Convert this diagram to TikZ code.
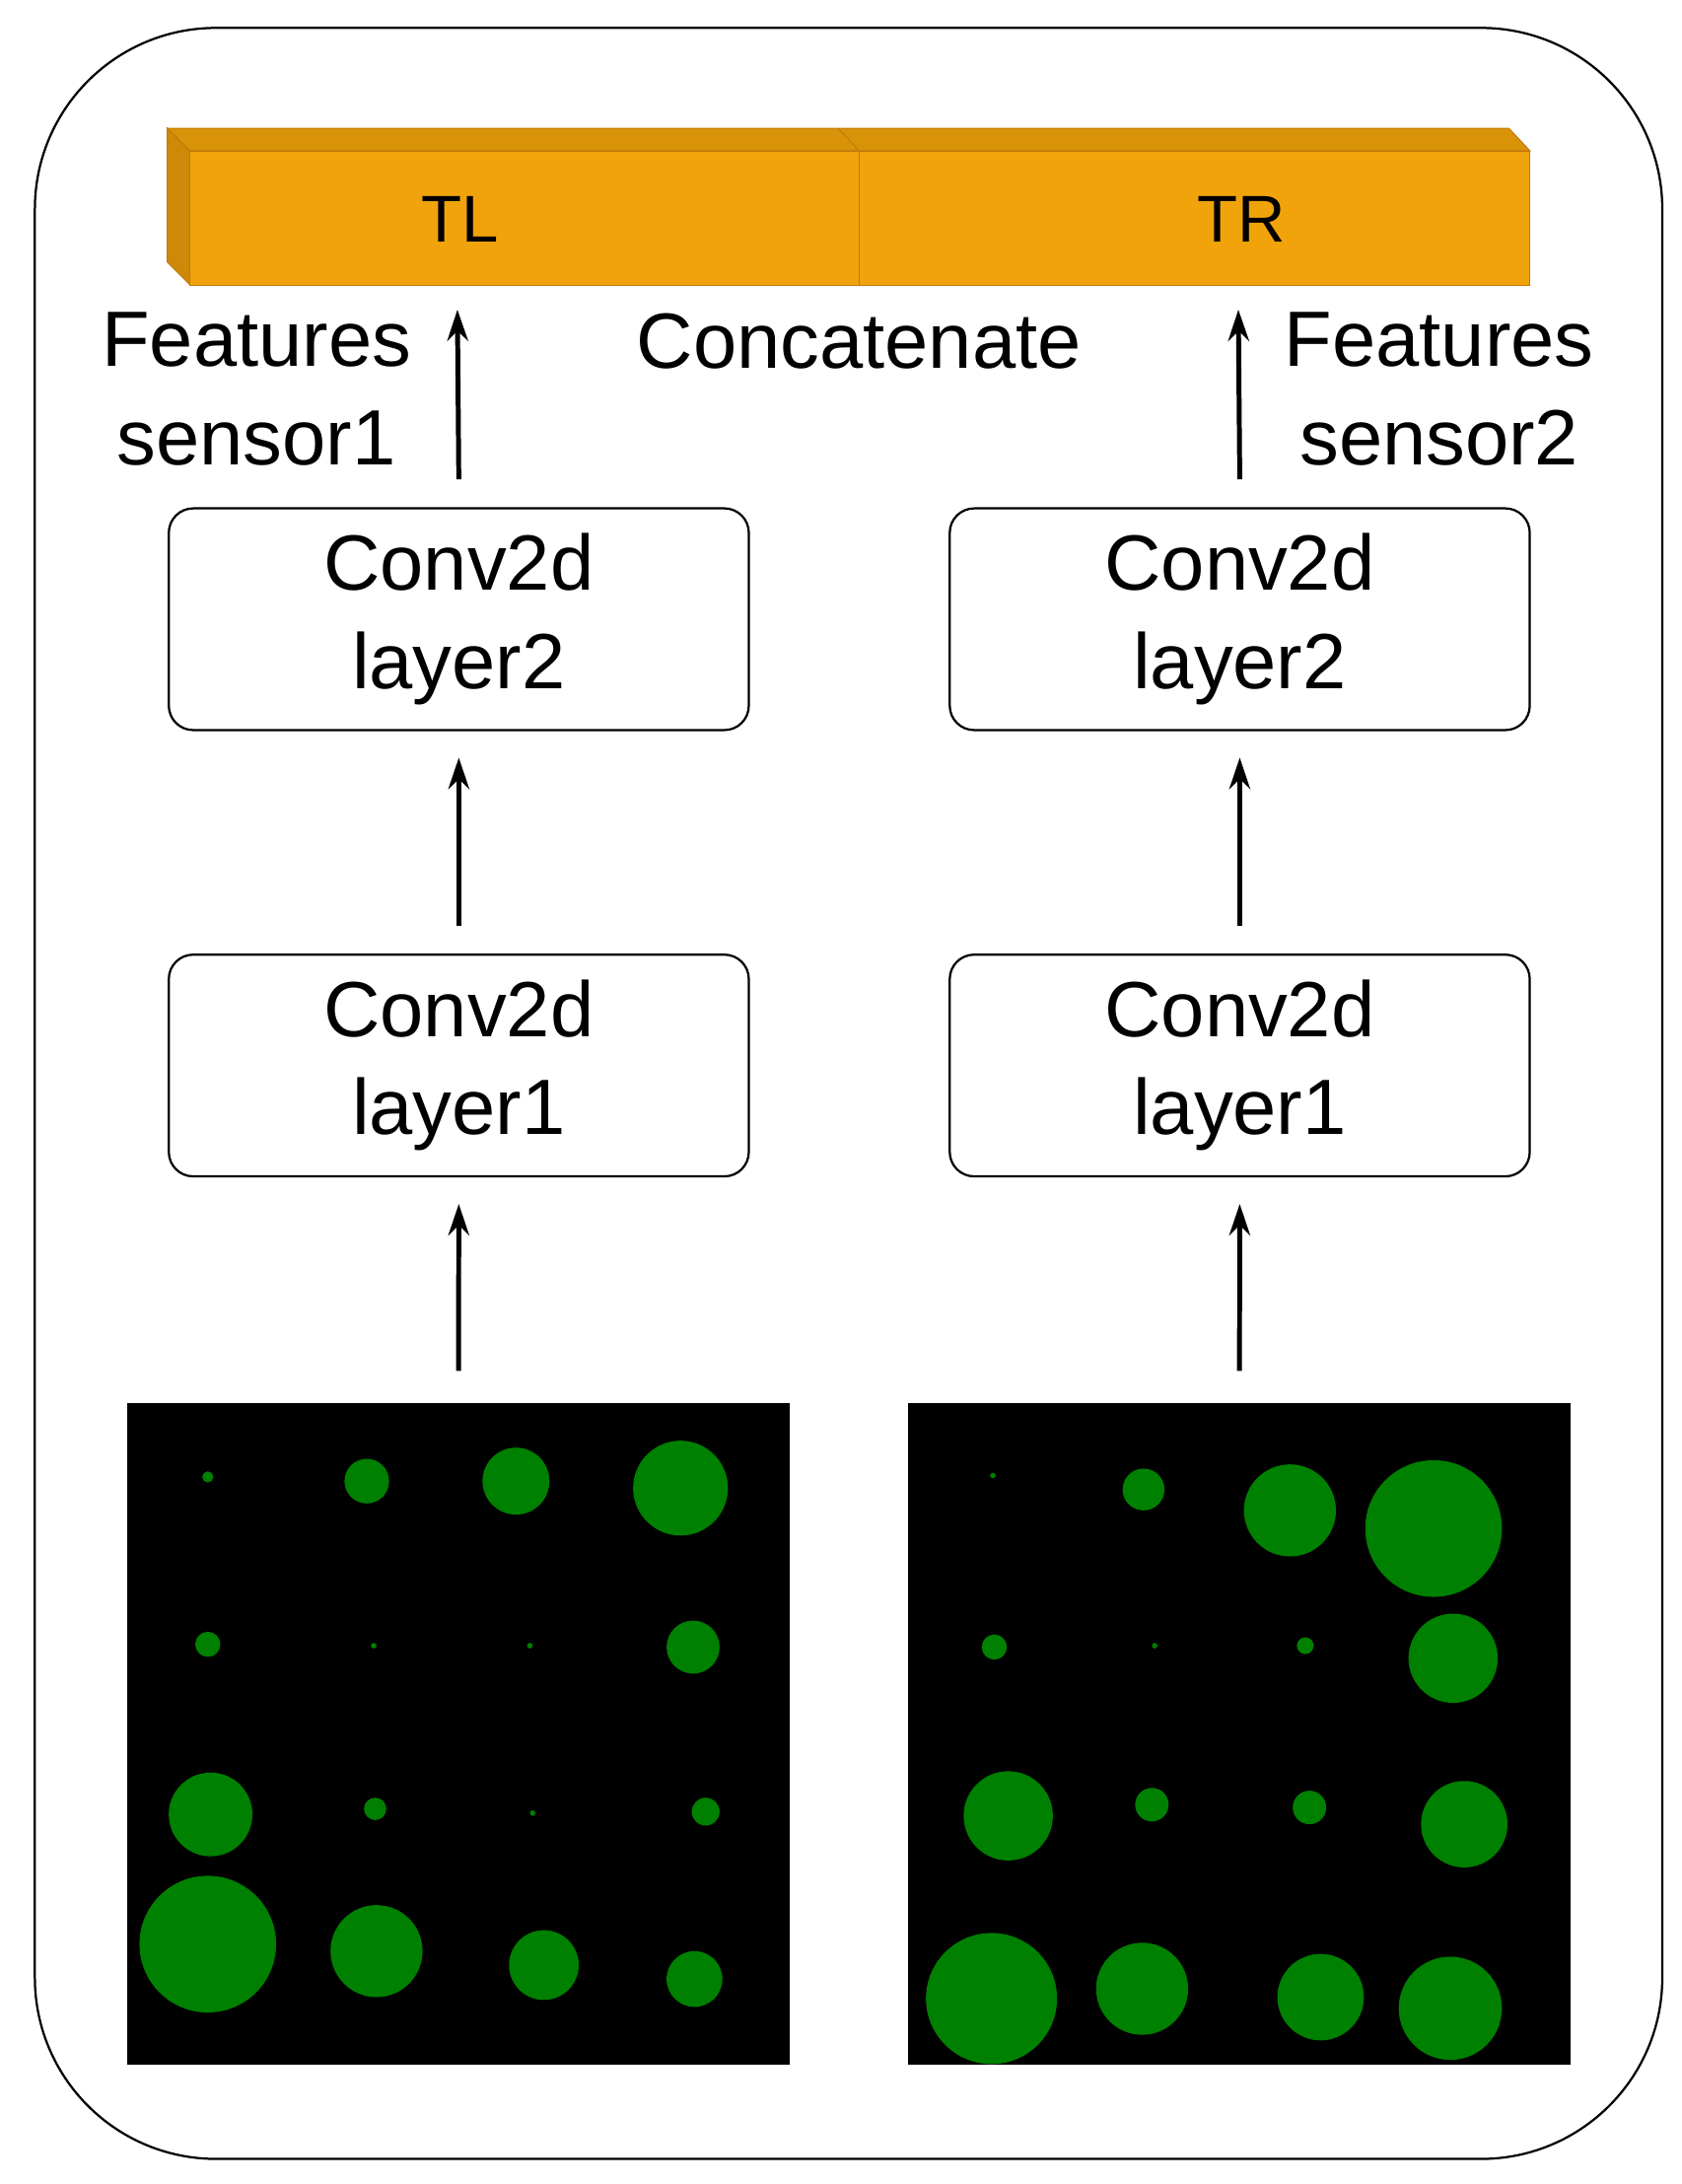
\documentclass[tikz,border=0pt]{standalone}
\usepackage{fontspec}
\setmainfont{Liberation Sans}
\usetikzlibrary{arrows.meta}
\begin{document}
\begin{tikzpicture}[x=0.02cm,y=-0.02cm,
 box/.style={draw,rounded corners=0.35cm,line width=0.9pt,minimum width=8.32cm,minimum height=3.18cm,align=center,font=\fontsize{32}{40}\selectfont},
 lbl/.style={align=center,font=\fontsize{32}{40}\selectfont},
 arr/.style={-{Stealth[length=0.45cm,width=0.3cm]},line width=2pt},
 dot/.style={fill=green!50!black}]
\useasboundingbox (0,0) rectangle (1206,1566);
\draw[line width=0.9pt,rounded corners=2.6cm] (25,20) rectangle (1192,1548);
% orange bar
\definecolor{org}{HTML}{F0A30A}\definecolor{orgd}{HTML}{C27A0A}
\fill[org!85!black,draw=orgd] (120,92)--(136,108)--(136,204)--(120,188)--cycle;
\fill[org!90!black,draw=orgd] (120,92)--(1082,92)--(1097,108)--(136,108)--cycle;
\draw[orgd] (601,92)--(616,108);
\node[fill=org,draw=orgd,minimum width=19.22cm,minimum height=1.92cm,anchor=north west,inner sep=0] (bar) at (136,108) {};
\draw[orgd] (616,108)--(616,204);
\node[font=\fontsize{27}{32}\selectfont] (tl) at (330,157) {TL};
\node[font=\fontsize{27}{32}\selectfont] (tr) at (890,157) {TR};
\coordinate (tla) at (328,222); \coordinate (tra) at (888,222);
% boxes
\node[box] (l2) at (329,444) {Conv2d\\layer2};
\node[box] (r2) at (889,444) {Conv2d\\layer2};
\node[box] (l1) at (329,764) {Conv2d\\layer1};
\node[box] (r1) at (889,764) {Conv2d\\layer1};
\node[lbl] (fl) at (184,279) {Features\\sensor1};
\node[lbl] (fr) at (1032,279) {Features\\sensor2};
\node[lbl] (cc) at (616,245) {Concatenate};
% images
\node[fill=black,minimum width=9.5cm,minimum height=9.48cm,inner sep=0,anchor=north west] (il) at (91,1006) {};
\node[fill=black,minimum width=9.5cm,minimum height=9.48cm,inner sep=0,anchor=north west] (ir) at (651,1006) {};
\foreach \x/\y/\r in {149/1059/4,263/1062/16,370/1062/24,488/1067/34,149/1179/9,268/1180/2,380/1180/2,497/1181/19,151/1301/30,269/1297/8,382/1300/2,506/1299/10,149/1394/49,270/1399/33,390/1409/25,498/1419/20,
712/1058/2,820/1068/15,925/1083/33,1028/1096/49,713/1181/9,828/1180/2,936/1180/6,1042/1189/32,723/1302/32,826/1294/12,939/1296/12,1050/1308/31,711/1433/47,819/1426/33,947/1432/31,1040/1440/37}
 \fill[dot] (\x,\y) circle[radius=\r*0.02cm];
% arrows
\draw[arr] ([yshift=0.46cm]il.north) -- ([yshift=-0.38cm]l1.south);
\draw[arr] ([yshift=0.46cm]ir.north) -- ([yshift=-0.38cm]r1.south);
\draw[arr] ([yshift=0.4cm]l1.north) -- ([yshift=-0.38cm]l2.south);
\draw[arr] ([yshift=0.4cm]r1.north) -- ([yshift=-0.38cm]r2.south);
\draw[arr] ([yshift=0.4cm]l2.north) -- (tla);
\draw[arr] ([yshift=0.4cm]r2.north) -- (tra);
\end{tikzpicture}
\end{document}
